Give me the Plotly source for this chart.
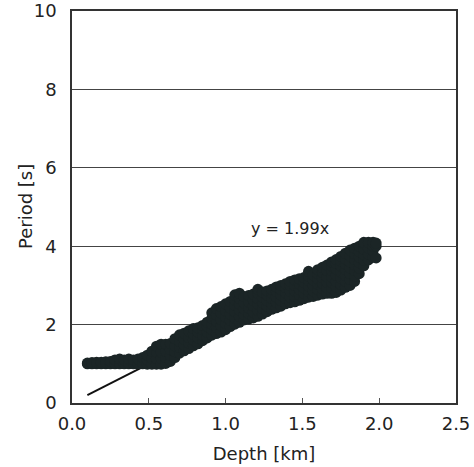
import plotly.graph_objects as go

# Depth columns [km] and the Period values [s] read at each column
column_depths = [0.10, 0.13, 0.16, 0.19, 0.22, 0.25, 0.28, 0.31, 0.34, 0.37, 0.40, 0.43,
                 0.46, 0.49, 0.52, 0.55, 0.58, 0.61, 0.64, 0.67, 0.70, 0.73, 0.76, 0.79,
                 0.82, 0.85, 0.88, 0.91, 0.94, 0.97, 1.00, 1.03, 1.06, 1.09, 1.12, 1.15,
                 1.18, 1.21, 1.24, 1.27, 1.30, 1.33, 1.36, 1.39, 1.42, 1.45, 1.48, 1.51,
                 1.54, 1.57, 1.60, 1.63, 1.66, 1.69, 1.72, 1.75, 1.78, 1.81, 1.84, 1.87,
                 1.90, 1.93, 1.96, 1.98]
column_periods = [
    [1.00, 1.02], [1.00, 1.03], [1.00, 1.04], [1.00, 1.04], [1.00, 1.05], [1.00, 1.06],
    [1.00, 1.10], [1.00, 1.12], [1.00, 1.10], [1.00, 1.12], [1.00, 1.10], [1.00, 1.12],
    [1.00, 1.16], [0.99, 1.10, 1.22], [0.99, 1.14, 1.32], [0.99, 1.14, 1.30, 1.45],
    [0.99, 1.14, 1.30, 1.50], [1.01, 1.16, 1.32, 1.50], [1.06, 1.21, 1.36, 1.52],
    [1.16, 1.31, 1.46, 1.64], [1.27, 1.42, 1.57, 1.74], [1.33, 1.48, 1.63, 1.78],
    [1.39, 1.53, 1.67, 1.84], [1.46, 1.61, 1.76, 1.90], [1.51, 1.66, 1.81, 1.92],
    [1.59, 1.73, 1.87, 1.98], [1.66, 1.81, 1.96, 2.06], [1.73, 1.87, 2.01, 2.16, 2.30],
    [1.77, 1.93, 2.09, 2.25, 2.41], [1.81, 1.97, 2.13, 2.29, 2.46],
    [1.87, 2.03, 2.19, 2.35, 2.53], [1.95, 2.11, 2.27, 2.43, 2.59],
    [2.01, 2.17, 2.33, 2.49, 2.63, 2.76], [2.06, 2.21, 2.37, 2.53, 2.67, 2.80],
    [2.12, 2.26, 2.40, 2.55, 2.72], [2.14, 2.28, 2.42, 2.58, 2.74],
    [2.17, 2.32, 2.48, 2.62, 2.78], [2.21, 2.36, 2.52, 2.66, 2.80, 2.90],
    [2.27, 2.41, 2.56, 2.70, 2.83], [2.33, 2.47, 2.61, 2.75, 2.86],
    [2.39, 2.53, 2.67, 2.81, 2.90], [2.43, 2.57, 2.71, 2.85, 2.96],
    [2.47, 2.61, 2.75, 2.89, 3.00], [2.53, 2.67, 2.81, 2.95, 3.04],
    [2.56, 2.70, 2.85, 3.00, 3.10], [2.58, 2.72, 2.86, 3.00, 3.14],
    [2.62, 2.76, 2.90, 3.04, 3.17], [2.66, 2.80, 2.94, 3.08, 3.20],
    [2.70, 2.84, 2.98, 3.12, 3.24, 3.36], [2.72, 2.86, 3.00, 3.14, 3.27],
    [2.75, 2.89, 3.03, 3.17, 3.30, 3.40], [2.78, 2.92, 3.06, 3.20, 3.34, 3.46],
    [2.80, 2.94, 3.08, 3.22, 3.38, 3.52], [2.80, 2.94, 3.08, 3.22, 3.38, 3.50, 3.60],
    [2.82, 2.96, 3.10, 3.26, 3.42, 3.56, 3.66], [2.88, 3.02, 3.18, 3.34, 3.50, 3.62, 3.74],
    [2.95, 3.10, 3.25, 3.40, 3.55, 3.68, 3.82], [3.00, 3.15, 3.30, 3.45, 3.60, 3.75, 3.90],
    [3.10, 3.24, 3.38, 3.52, 3.66, 3.80, 3.95], [3.30, 3.44, 3.58, 3.72, 3.86, 4.00],
    [3.50, 3.64, 3.78, 3.92, 4.06, 4.10], [3.65, 3.80, 3.95, 4.10],
    [3.72, 3.88, 4.00, 4.10], [3.70, 4.00, 4.08],
]

fit_slope = 1.99
fit_range = [0.10, 2.00]
x_ticks = [0.0, 0.5, 1.0, 1.5, 2.0, 2.5]
y_ticks = [0, 2, 4, 6, 8, 10]

depth = []
period = []
for d, ps in zip(column_depths, column_periods):
    for p in ps:
        depth.append(d)
        period.append(p)

fig = go.Figure()
fig.add_trace(go.Scatter(
    x=fit_range, y=[fit_slope * v for v in fit_range], mode="lines",
    line=dict(color="#111111", width=2), showlegend=False, hoverinfo="skip"))
fig.add_trace(go.Scatter(
    x=depth, y=period, mode="markers",
    marker=dict(color="#1b2526", size=11, line=dict(width=0)),
    showlegend=False))

fig.add_annotation(x=1.42, y=4.46, text=f"y = {fit_slope}x", showarrow=False,
                   font=dict(size=16, color="#222222"))
fig.add_annotation(xref="paper", yref="paper", x=0, y=0.5, xshift=-47,
                   xanchor="center", yanchor="middle",
                   text="Period [s]", textangle=-90, showarrow=False,
                   font=dict(size=18, color="#222222"))

font_family = "DejaVu Sans, sans-serif"
fig.update_layout(
    width=474, height=467,
    margin=dict(l=72, r=18, t=11, b=64),
    plot_bgcolor="white", paper_bgcolor="white",
    font=dict(family=font_family, color="#222222", size=18),
    xaxis=dict(range=[0, 2.5], tickvals=x_ticks, ticktext=[f"{v:.1f}" for v in x_ticks],
               ticks="inside", ticklen=5, tickcolor="#555555", automargin=False,
               ticklabeloverflow="allow",
               showgrid=False, zeroline=False, showline=True, linecolor="#333333",
               linewidth=1.5, mirror=True, ticklabelstandoff=4,
               title=dict(text="Depth [km]", standoff=14, font=dict(size=18))),
    yaxis=dict(range=[0, 10], tickvals=y_ticks, ticks="", showgrid=True, automargin=False,
               ticklabeloverflow="allow",
               gridcolor="#444444", gridwidth=1, zeroline=False, showline=True,
               linecolor="#333333", linewidth=1.5, mirror=True, ticklabelstandoff=10),
)

fig.write_html("out.html", config={"displayModeBar": False},
               post_script="document.body.style.margin='0';")
